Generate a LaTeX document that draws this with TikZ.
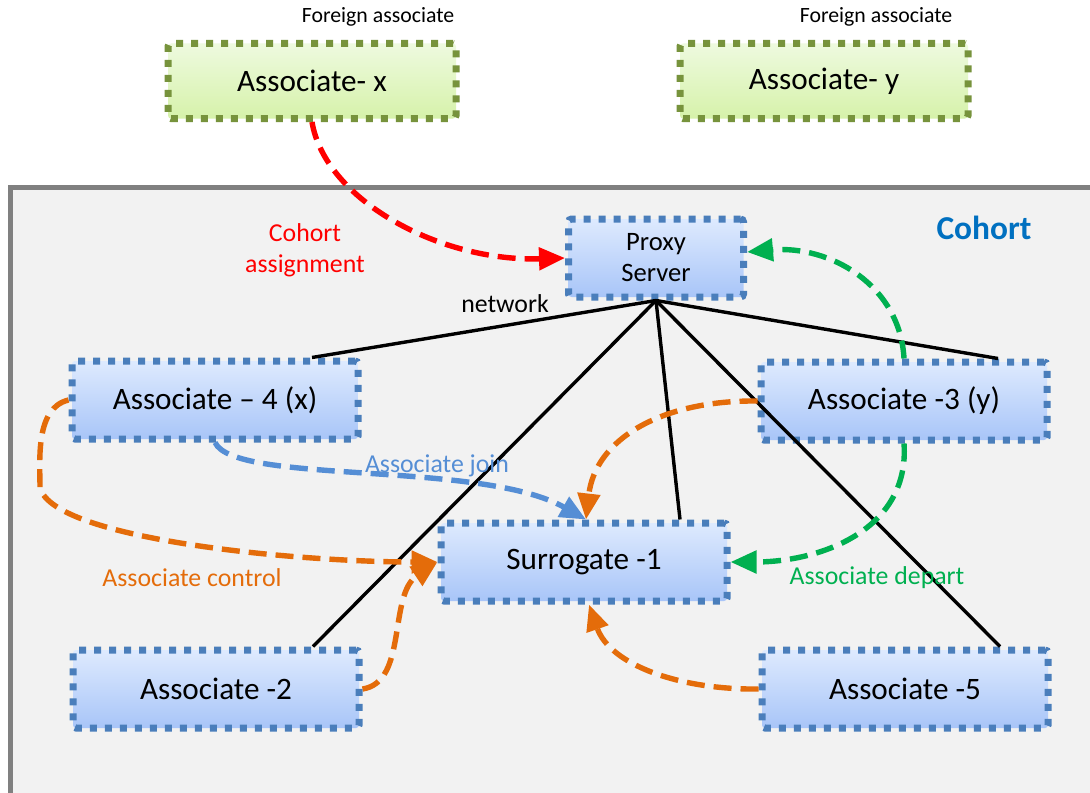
\documentclass[tikz,border=0pt]{standalone}
\usepackage{fontspec}
\setmainfont{Carlito}
\usetikzlibrary{arrows.meta,calc}

\definecolor{frameGray}{HTML}{808080}
\definecolor{frameFill}{HTML}{F2F2F2}
\definecolor{boxBlue}{HTML}{4A7EBB}
\definecolor{blueTop}{HTML}{DEEAFE}
\definecolor{blueBot}{HTML}{A8C5F8}
\definecolor{boxGreen}{HTML}{77933C}
\definecolor{greenTop}{HTML}{EEFADF}
\definecolor{greenBot}{HTML}{D6F2AA}
\definecolor{arrRed}{HTML}{FF0000}
\definecolor{arrOrange}{HTML}{E46C0A}
\definecolor{arrGreen}{HTML}{00B050}
\definecolor{arrBlue}{HTML}{558ED5}
\definecolor{cohortBlue}{HTML}{0070C0}

\tikzset{
  member/.style={draw=boxBlue, top color=blueTop, bottom color=blueBot,
    line width=3.5pt, dash pattern=on 3.5pt off 4pt, rounded corners=1.5pt,
    minimum width=143pt, minimum height=39pt, inner sep=0pt,
    font=\fontsize{15.6}{18}\selectfont},
  foreign/.style={member, draw=boxGreen, top color=greenTop, bottom color=greenBot,
    minimum width=144pt, minimum height=37.5pt},
  proxybox/.style={member, minimum width=87.5pt, minimum height=39pt,
    align=center, font=\fontsize{13.3}{15.5}\selectfont},
  netlink/.style={line width=1.7pt, black},
  flow/.style={line width=2.7pt, dash pattern=on 9pt off 4.5pt,
    -{Triangle[length=13pt,width=11pt]}},
  lbl/.style={inner sep=0pt, align=center, font=\fontsize{12.9}{15.5}\selectfont},
  smalllbl/.style={inner sep=0pt, font=\fontsize{10.9}{13}\selectfont},
}

\begin{document}
\begin{tikzpicture}[x=0.5pt,y=-0.5pt]
  \useasboundingbox (0,0) rectangle (1090,792);
  \clip (0,0) rectangle (1090,792);
  \fill[white] (0,0) rectangle (1090,792);

  % cohort area
  \draw[frameGray, fill=frameFill, line width=2.5pt] (10,187) rectangle (1110,810);

  % foreign associates
  \node[foreign] (ax) at (312,81) {Associate- x};
  \node[foreign] (ay) at (824,81) {Associate- y};
  \node[smalllbl] (fx) at (378,17) {Foreign associate};
  \node[smalllbl] (fy) at (876,17) {Foreign associate};

  % cohort members
  \node[proxybox] (proxy) at (656,258) {Proxy\\Server};
  \node[member] (a4) at (215,400) {Associate -- 4 (x)};
  \node[member] (a3) at (904,401) {Associate -3 (y)};
  \node[member] (s1) at (584,562) {Surrogate -1};
  \node[member] (a2) at (216,689) {Associate -2};
  \node[member] (a5) at (905,689) {Associate -5};

  % network links from the proxy
  \draw[netlink] (proxy.south) -- ($(a4.north)+(97,0)$);
  \draw[netlink] (proxy.south) -- ($(a3.north)+(94,0)$);
  \draw[netlink] (proxy.south) -- ($(a2.north)+(97,0)$);
  \draw[netlink] (proxy.south) -- ($(s1.north)+(96,0)$);
  \draw[netlink] (proxy.south) -- ($(a5.north)+(95,0)$);

  % flows
  \draw[flow, arrRed] (ax.south) .. controls (325,200) and (440,262) .. (proxy.west);
  \draw[flow, arrGreen] (a3.north) .. controls (900,285) and (830,245) .. ($(proxy.east)+(0,-6)$);
  \draw[flow, arrGreen] (a3.south) .. controls (910,530) and (820,562) .. (s1.east);
  \draw[flow, arrOrange] (a3.west) .. controls (660,400) and (595,440) .. ($(s1.north)+(2,0)$);
  \draw[flow, arrBlue] (a4.south) .. controls (235,485) and (480,460) .. ($(s1.north)+(2,0)$);
  \draw[flow, arrOrange] (a4.west) .. controls (35,408) and (40,460) .. (40,488)
        .. controls (55,540) and (300,562) .. (s1.west);
  \draw[flow, arrOrange] (a2.east) .. controls (408,682) and (388,595) .. (s1.west);
  \draw[flow, arrOrange] (a5.west) .. controls (680,690) and (610,665) .. ($(s1.south)+(5,0)$);

  % labels
  \node[lbl, text=arrRed] (lassign) at (305,250) {Cohort\\assignment};
  \node[lbl] (lnet) at (505,304) {network};
  \node[lbl, text=arrBlue] (ljoin) at (437,466) {Associate join};
  \node[lbl, text=arrOrange] (lctrl) at (192,578) {Associate control};
  \node[lbl, text=arrGreen] (ldep) at (877,578) {Associate depart};
  \node[inner sep=0pt, text=cohortBlue, font=\bfseries\fontsize{16.7}{20}\selectfont] (lcohort) at (984,228) {Cohort};
\end{tikzpicture}
\end{document}
